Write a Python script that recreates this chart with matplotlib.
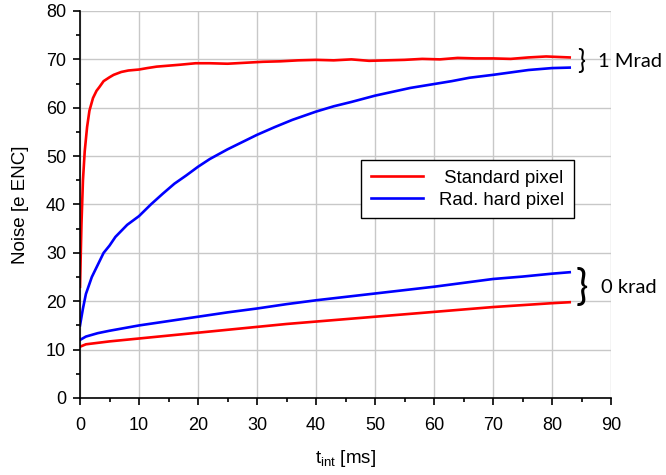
import matplotlib
matplotlib.use("Agg")
import matplotlib.pyplot as plt
from matplotlib.ticker import MultipleLocator

plt.rcParams['font.family'] = ['Liberation Sans', 'DejaVu Sans']

# Standard pixel, 1 Mrad
t_std_1M = [0, 0.25, 0.5, 0.8, 1.2, 1.6, 2.2, 2.8, 3.3, 4, 5, 5.7, 7, 8.2, 10, 11.4, 13, 15, 17,
            19.6, 22, 25, 28, 31, 34, 37, 40, 43, 46, 49, 52, 55, 58, 61, 64, 67, 70, 73, 76, 79, 81, 83]
n_std_1M = [23, 36, 45, 51, 56, 59.4, 62, 63.5, 64.3, 65.5, 66.3, 66.8, 67.4, 67.7, 67.9, 68.2, 68.5,
            68.7, 68.9, 69.2, 69.2, 69.1, 69.3, 69.5, 69.6, 69.8, 69.9, 69.8, 70.0, 69.7, 69.8, 69.9,
            70.1, 70.0, 70.3, 70.2, 70.2, 70.1, 70.4, 70.6, 70.5, 70.4]

# Rad. hard pixel, 1 Mrad
t_rh_1M = [0, 0.5, 1, 2, 3, 4, 5, 6, 8, 10, 12, 14, 16, 18, 20, 22, 25, 28, 30, 33, 36, 40, 43, 46,
           50, 53, 56, 60, 63, 66, 70, 73, 76, 80, 83]
n_rh_1M = [15, 18.5, 21.5, 25, 27.5, 30, 31.5, 33.3, 35.8, 37.6, 40.0, 42.2, 44.3, 46.0, 47.8, 49.4, 51.4,
           53.2, 54.4, 56, 57.5, 59.2, 60.3, 61.2, 62.5, 63.3, 64.1, 64.9, 65.5, 66.2, 66.8, 67.3,
           67.8, 68.2, 68.3]

# 0 krad
t_0k = [0, 1, 3, 5, 10, 15, 20, 25, 30, 35, 40, 45, 50, 55, 60, 65, 70, 75, 80, 83]
n_rh_0k = [12, 12.7, 13.4, 13.9, 15.0, 15.9, 16.8, 17.7, 18.5, 19.4, 20.2, 20.9, 21.6, 22.3, 23.0,
           23.8, 24.6, 25.1, 25.7, 26.0]
n_std_0k = [10.6, 11.1, 11.4, 11.7, 12.3, 12.9, 13.5, 14.1, 14.7, 15.3, 15.8, 16.3, 16.8, 17.3, 17.8,
            18.3, 18.8, 19.2, 19.6, 19.8]

fig = plt.figure(figsize=(6.66, 4.75), dpi=100)
ax = fig.add_axes([80/666, (475-398)/475, 531/666, 387/475])

red = '#FF0000'
blue = '#0000FF'
lw = 1.9
ax.plot(t_std_1M, n_std_1M, color=red, lw=lw, label=' Standard pixel')
ax.plot(t_rh_1M, n_rh_1M, color=blue, lw=lw, label='Rad. hard pixel')
ax.plot(t_0k, n_rh_0k, color=blue, lw=lw)
ax.plot(t_0k, n_std_0k, color=red, lw=lw)

ax.set_xlim(0, 90)
ax.set_ylim(0, 80)
ax.xaxis.set_major_locator(MultipleLocator(10))
ax.xaxis.set_minor_locator(MultipleLocator(5))
ax.yaxis.set_major_locator(MultipleLocator(10))
ax.yaxis.set_minor_locator(MultipleLocator(5))
ax.grid(True, which='major', color='#c8c8c8', lw=1.0)
ax.set_axisbelow(True)
for s in ['top', 'right']:
    ax.spines[s].set_visible(False)
for s in ['left', 'bottom']:
    ax.spines[s].set_linewidth(1.2)
ax.tick_params(which='major', direction='out', length=5, width=1.2, labelsize=13)
ax.tick_params(axis='x', which='major', pad=9)
ax.tick_params(axis='y', which='major', pad=5)
ax.tick_params(which='minor', direction='out', length=3, width=1.2)

ax.set_xlabel(r'$\mathregular{t_{int}}$ [ms]', fontsize=13.5, labelpad=10)
ax.set_ylabel('Noise [e ENC]', fontsize=13.5, labelpad=12)

leg = ax.legend(loc='upper right', bbox_to_anchor=(0.93, 0.614), fontsize=13.4,
                frameon=True, fancybox=False, edgecolor='black', framealpha=1,
                handlelength=2.8, borderpad=0.5, handletextpad=0.9, labelspacing=0.28,
                borderaxespad=0)
leg.get_frame().set_linewidth(1.0)

bf = ['Lato', 'DejaVu Sans']
ax.text(84.2, 69.5, '}', fontsize=19, family=bf, va='center', ha='left', clip_on=False)
ax.text(87.8, 69.5, '1 Mrad', fontsize=14.5, family=bf, va='center', ha='left', clip_on=False)
ax.text(84.0, 22.8, '}', fontsize=30, family=bf, va='center', ha='left', clip_on=False)
ax.text(88.3, 22.8, '0 krad', fontsize=14.5, family=bf, va='center', ha='left', clip_on=False)

fig.savefig('out.png', dpi=100)
